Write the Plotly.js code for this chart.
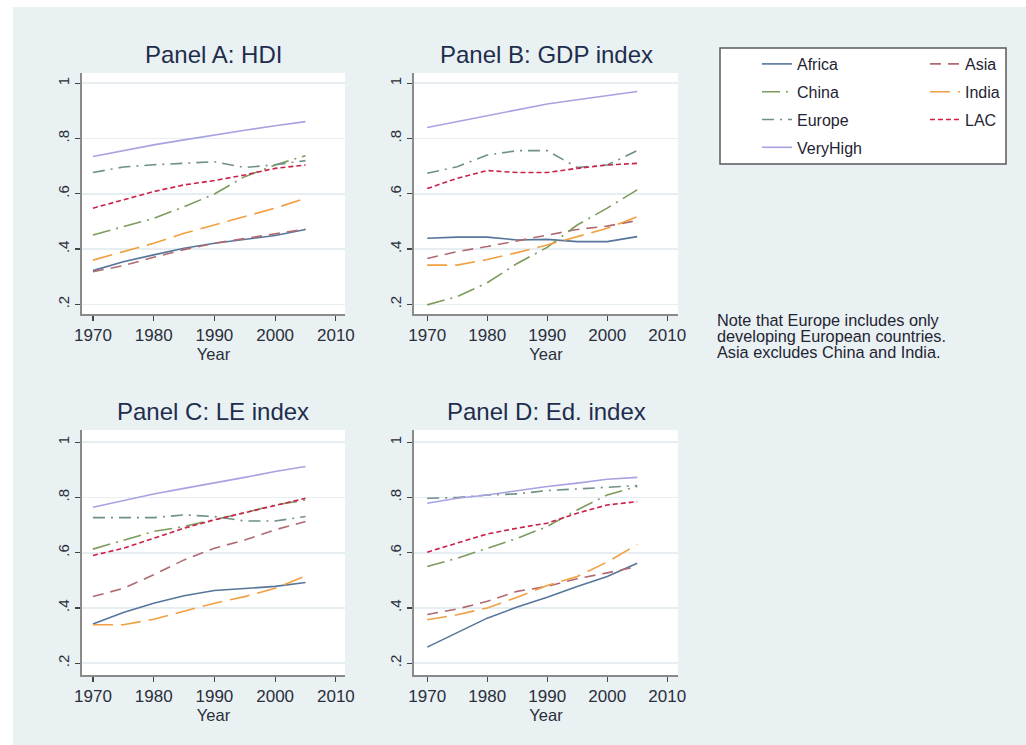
<!DOCTYPE html>
<html>
<head>
<meta charset="utf-8">
<script src="https://cdn.plot.ly/plotly-3.0.1.min.js"></script>
<style>
  html, body { margin: 0; padding: 0; background: #ffffff; width: 1026px; height: 745px; overflow: hidden; }
  #chart { position: absolute; left: 13px; top: 7px; width: 1013px; height: 738px; }
</style>
</head>
<body>
<div id="chart"></div>
<script>
// ---------------- data ----------------
const years = [1970, 1975, 1980, 1985, 1990, 1995, 2000, 2005];
const seriesNames = ["Africa", "Asia", "China", "India", "Europe", "LAC", "VeryHigh"];
const panelTitles = ["Panel A: HDI", "Panel B: GDP index", "Panel C: LE index", "Panel D: Ed. index"];
const yTickVals = [0.2, 0.4, 0.6, 0.8, 1];
const yTickText = [".2", ".4", ".6", ".8", "1"];
const xTickVals = [1970, 1980, 1990, 2000, 2010];
const noteLines = ["Note that Europe includes only", "developing European countries.", "Asia excludes China and India."];

// Panel A: HDI
const hdiAfrica   = [0.322, 0.354, 0.379, 0.403, 0.421, 0.435, 0.449, 0.471];
const hdiAsia     = [0.318, 0.340, 0.370, 0.398, 0.421, 0.438, 0.455, 0.472];
const hdiChina    = [0.451, 0.481, 0.511, 0.553, 0.599, 0.662, 0.704, 0.738];
const hdiIndia    = [0.360, 0.391, 0.421, 0.457, 0.487, 0.518, 0.548, 0.584];
const hdiEurope   = [0.677, 0.697, 0.705, 0.710, 0.716, 0.695, 0.705, 0.720];
const hdiLAC      = [0.548, 0.578, 0.608, 0.632, 0.648, 0.668, 0.692, 0.704];
const hdiVeryHigh = [0.735, 0.757, 0.777, 0.795, 0.813, 0.830, 0.846, 0.861];

// Panel B: GDP index
const gdpAfrica   = [0.439, 0.443, 0.443, 0.433, 0.435, 0.427, 0.427, 0.445];
const gdpAsia     = [0.366, 0.391, 0.409, 0.430, 0.451, 0.471, 0.483, 0.503];
const gdpChina    = [0.198, 0.228, 0.278, 0.348, 0.406, 0.487, 0.548, 0.614];
const gdpIndia    = [0.342, 0.342, 0.362, 0.387, 0.415, 0.445, 0.475, 0.517];
const gdpEurope   = [0.674, 0.698, 0.740, 0.756, 0.756, 0.695, 0.704, 0.756];
const gdpLAC      = [0.619, 0.656, 0.684, 0.677, 0.677, 0.692, 0.704, 0.710];
const gdpVeryHigh = [0.840, 0.861, 0.882, 0.903, 0.925, 0.940, 0.955, 0.970];

// Panel C: LE index
const leAfrica   = [0.342, 0.383, 0.417, 0.444, 0.463, 0.471, 0.478, 0.492];
const leAsia     = [0.441, 0.471, 0.520, 0.574, 0.616, 0.646, 0.683, 0.713];
const leChina    = [0.613, 0.646, 0.677, 0.695, 0.719, 0.745, 0.773, 0.791];
const leIndia    = [0.339, 0.339, 0.359, 0.387, 0.417, 0.441, 0.471, 0.516];
const leEurope   = [0.727, 0.727, 0.727, 0.737, 0.731, 0.715, 0.715, 0.731];
const leLAC      = [0.590, 0.616, 0.652, 0.689, 0.719, 0.745, 0.773, 0.797];
const leVeryHigh = [0.765, 0.790, 0.813, 0.833, 0.852, 0.873, 0.894, 0.912];

// Panel D: Ed. index
const edAfrica   = [0.258, 0.311, 0.363, 0.403, 0.439, 0.478, 0.514, 0.562];
const edAsia     = [0.376, 0.396, 0.424, 0.460, 0.478, 0.506, 0.527, 0.550];
const edChina    = [0.550, 0.580, 0.616, 0.652, 0.695, 0.755, 0.809, 0.840];
const edIndia    = [0.357, 0.375, 0.400, 0.439, 0.481, 0.514, 0.566, 0.630];
const edEurope   = [0.797, 0.800, 0.809, 0.813, 0.825, 0.830, 0.837, 0.843];
const edLAC      = [0.602, 0.634, 0.668, 0.689, 0.707, 0.743, 0.773, 0.785];
const edVeryHigh = [0.779, 0.797, 0.809, 0.825, 0.840, 0.852, 0.866, 0.873];

const panelData = [
  [hdiAfrica, hdiAsia, hdiChina, hdiIndia, hdiEurope, hdiLAC, hdiVeryHigh],
  [gdpAfrica, gdpAsia, gdpChina, gdpIndia, gdpEurope, gdpLAC, gdpVeryHigh],
  [leAfrica, leAsia, leChina, leIndia, leEurope, leLAC, leVeryHigh],
  [edAfrica, edAsia, edChina, edIndia, edEurope, edLAC, edVeryHigh]
];

// ---------------- styles ----------------
const lineStyle = {
  Africa:   {color: "#56759b", dash: "solid"},
  Asia:     {color: "#b06a71", dash: "11px,7px"},
  China:    {color: "#7d9b5c", dash: "18px,6px,2px,6px"},
  India:    {color: "#f0a040", dash: "20px,8px"},
  Europe:   {color: "#6f9087", dash: "12px,6px,2px,6px"},
  LAC:      {color: "#cc2048", dash: "5px,3px"},
  VeryHigh: {color: "#a8a2e2", dash: "solid"}
};
const legendOf = {Africa: "legend", China: "legend", Europe: "legend", VeryHigh: "legend",
                  Asia: "legend2", India: "legend2", LAC: "legend2"};

// geometry helpers (page pixels -> paper fraction)
const OX = 13, OY = 7, W = 1013, H = 738;
const fx = X => (X - OX) / W;
const fy = Y => 1 - (Y - OY) / H;

const panels = [
  {xa: "x",  ya: "y",  xd: [fx(82), fx(345)],  yd: [fy(314), fy(73)],  xr: [1968.2, 2011.5], yr: [0.165, 1.037]},
  {xa: "x2", ya: "y2", xd: [fx(414), fx(678)], yd: [fy(314), fy(73)],  xr: [1967.8, 2011.8], yr: [0.165, 1.037]},
  {xa: "x3", ya: "y3", xd: [fx(82), fx(345)],  yd: [fy(675), fy(430)], xr: [1968.2, 2011.5], yr: [0.157, 1.0445]},
  {xa: "x4", ya: "y4", xd: [fx(414), fx(678)], yd: [fy(675), fy(430)], xr: [1967.8, 2011.8], yr: [0.157, 1.0445]}
];

const traces = [];
panels.forEach((p, pi) => {
  seriesNames.forEach((name, si) => {
    traces.push({
      type: "scatter", mode: "lines",
      x: years, y: panelData[pi][si],
      xaxis: p.xa, yaxis: p.ya,
      name: name, legendgroup: name,
      legend: legendOf[name],
      showlegend: pi === 0,
      line: {color: lineStyle[name].color, dash: lineStyle[name].dash, width: 1.6},
      hoverinfo: "x+y+name"
    });
  });
});

const font = "Liberation Sans, Arial, sans-serif";
const layout = {
  width: W, height: H,
  margin: {l: 0, r: 0, t: 0, b: 0},
  paper_bgcolor: "#e9f1f3",
  plot_bgcolor: "#ffffff",
  font: {family: font, color: "#1f2a3c"},
  showlegend: true,
  legend: {
    x: fx(757), y: fy(47), xanchor: "left", yanchor: "top",
    bgcolor: "rgba(0,0,0,0)", borderwidth: 0,
    font: {size: 16, family: font, color: "#1f2433"},
    tracegroupgap: 4, itemwidth: 30
  },
  legend2: {
    x: fx(925), y: fy(47), xanchor: "left", yanchor: "top",
    bgcolor: "rgba(0,0,0,0)", borderwidth: 0,
    font: {size: 16, family: font, color: "#1f2433"},
    tracegroupgap: 4, itemwidth: 30
  },
  shapes: [
    {type: "rect", xref: "paper", yref: "paper", x0: fx(720), x1: fx(1006), y0: fy(164), y1: fy(48),
     line: {color: "#5a5a5a", width: 1.5}, fillcolor: "#ffffff", layer: "below"}
  ],
  annotations: []
};

panels.forEach((p, pi) => {
  const n = pi === 0 ? "" : String(pi + 1);
  layout["xaxis" + n] = {
    domain: p.xd, range: p.xr, anchor: p.ya,
    tickmode: "array", tickvals: xTickVals, ticktext: xTickVals.map(String),
    ticks: "outside", ticklen: 5, tickwidth: 1.2, tickcolor: "#444",
    showline: true, linecolor: "#8a8a8a", linewidth: 1.6,
    showgrid: false, zeroline: false,
    tickfont: {size: 17, family: font, color: "#2a2f3a"},
    title: {text: "Year", font: {size: 16.5, family: font, color: "#2a2f3a"}, standoff: 1},
    fixedrange: true
  };
  layout["yaxis" + n] = {
    domain: p.yd, range: p.yr, anchor: p.xa,
    tickmode: "array", tickvals: yTickVals, ticktext: yTickText,
    tickangle: -90,
    ticks: "outside", ticklen: 5, tickwidth: 1.2, tickcolor: "#444",
    showline: true, linecolor: "#8a8a8a", linewidth: 1.6,
    showgrid: true, gridcolor: "#e6eef1", gridwidth: 1.6,
    zeroline: false,
    tickfont: {size: 15, family: font, color: "#2a2f3a"},
    fixedrange: true
  };
  layout.annotations.push({
    text: panelTitles[pi], xref: "paper", yref: "paper",
    x: (p.xd[0] + p.xd[1]) / 2, y: p.yd[1] + 3 / H,
    xanchor: "center", yanchor: "bottom", showarrow: false,
    font: {size: 24, family: font, color: "#1f2d4d"}
  });
});

const noteY = [320, 336, 351.5];
noteLines.forEach((t, i) => {
  layout.annotations.push({
    text: t, xref: "paper", yref: "paper",
    x: fx(715), y: fy(noteY[i]), xanchor: "left", yanchor: "middle",
    showarrow: false, font: {size: 16.3, family: font, color: "#1f2433"}
  });
});

Plotly.newPlot("chart", traces, layout, {displayModeBar: false, staticPlot: true});
</script>
</body>
</html>
